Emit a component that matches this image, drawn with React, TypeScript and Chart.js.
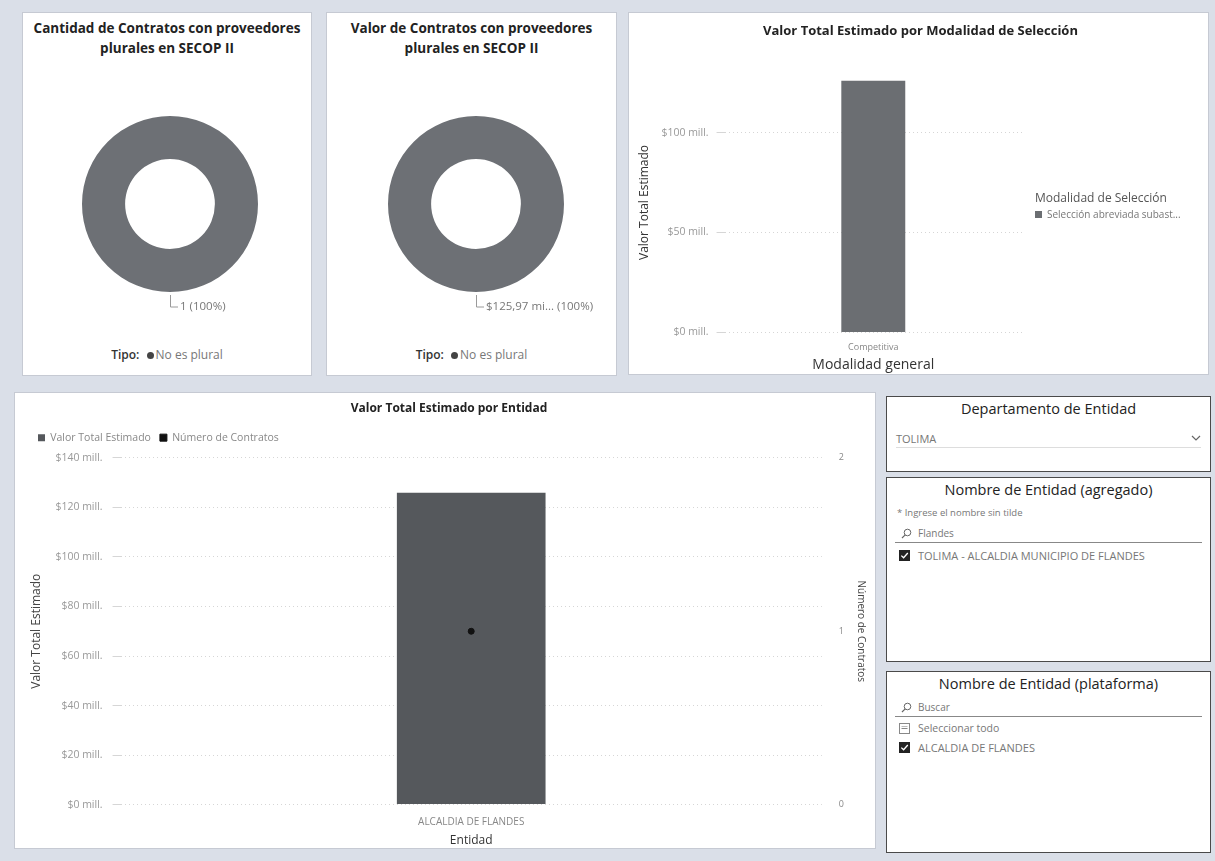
import React, { useEffect, useRef } from "react";
import { Chart, registerables } from "chart.js";

Chart.register(...registerables);

const FONT = "'Open Sans', 'Noto Sans', sans-serif";
Chart.defaults.font.family = FONT;

// ---- data ----
const tipoLabels = ["No es plural"];
const cantidadContratos = [1];
const valorContratos = [125.97]; // millones
const modalidadGeneral = ["Competitiva"];
const modalidadSeleccion = ["Selección abreviada subast..."];
const valorPorModalidad = [125.97]; // millones
const entidades = ["ALCALDIA DE FLANDES"];
const valorPorEntidad = [125.97]; // millones
const numeroContratos = [1];
const departamentos = ["TOLIMA"];
const entidadesAgregado = ["TOLIMA - ALCALDIA MUNICIPIO DE FLANDES"];
const entidadesPlataforma = ["ALCALDIA DE FLANDES"];

const DONUT = "#6d7075";
const BAR3 = "#6b6e72";
const BAR4 = "#55585c";

const sliceLabelPlugin = {
  id: "sliceLabel",
  afterDatasetsDraw(chart: any, _args: any, opts: any) {
    const meta = chart.getDatasetMeta(0);
    const ctx = chart.ctx;
    const data = chart.data.datasets[0].data as number[];
    const total = data.reduce((a, b) => a + b, 0);
    meta.data.forEach((arc: any, i: number) => {
      const { x, y, startAngle, endAngle, outerRadius } = arc.getProps(
        ["x", "y", "startAngle", "endAngle", "outerRadius"],
        true
      );
      const mid = (startAngle + endAngle) / 2;
      const px = Math.round(x + Math.cos(mid) * (outerRadius + 3));
      const py = y + Math.sin(mid) * (outerRadius + 3);
      ctx.save();
      ctx.strokeStyle = "#9a9a9a";
      ctx.lineWidth = 1;
      ctx.beginPath();
      ctx.moveTo(px + 0.5, py);
      ctx.lineTo(px + 0.5, py + 12);
      ctx.lineTo(px + 8, py + 12);
      ctx.stroke();
      ctx.fillStyle = "#777";
      ctx.font = `11.5px ${FONT}`;
      ctx.textBaseline = "middle";
      ctx.fillText(opts.format(data[i], total), px + 10, py + 12);
      ctx.restore();
    });
  },
};

// pushes the plot area down below the legend without moving the legend text
const legendSpacerPlugin = {
  id: "legendSpacer",
  afterInit(chart: any, _args: any, opts: any) {
    const legend = chart.legend;
    if (!legend) return;
    const fit = legend.fit.bind(legend);
    legend.fit = function () {
      fit();
      this.height += opts.extra || 0;
    };
  },
};

function ChartBox({ config, style }: { config: any; style: React.CSSProperties }) {
  const ref = useRef<HTMLCanvasElement>(null);
  useEffect(() => {
    const chart = new Chart(ref.current as HTMLCanvasElement, config);
    return () => chart.destroy();
  }, []);
  return (
    <div style={{ position: "absolute", ...style }}>
      <canvas ref={ref} />
    </div>
  );
}

function donutConfig(values: number[], fmt: (v: number, t: number) => string) {
  return {
    type: "doughnut",
    data: {
      labels: tipoLabels,
      datasets: [{ data: values, backgroundColor: [DONUT], borderWidth: 0 }],
    },
    options: {
      animation: false,
      responsive: true,
      maintainAspectRatio: false,
      cutout: "51%",
      layout: { padding: { left: 42, right: 42, top: 22, bottom: 42 } },
      plugins: {
        legend: { display: false },
        tooltip: { enabled: false },
        sliceLabel: { format: fmt },
      },
    },
    plugins: [sliceLabelPlugin],
  };
}

const pct = (v: number, t: number) => `${Math.round((v / t) * 100)}%`;

const modalidadConfig = {
  type: "bar",
  data: {
    labels: modalidadGeneral,
    datasets: [
      {
        label: modalidadSeleccion[0],
        data: valorPorModalidad,
        backgroundColor: BAR3,
        barPercentage: 0.215,
        categoryPercentage: 1,
      },
    ],
  },
  options: {
    animation: false,
    responsive: true,
    maintainAspectRatio: false,
    layout: { padding: { left: 8, right: 4, top: 4, bottom: 1 } },
    plugins: {
      tooltip: { enabled: false },
      title: {
        display: true,
        text: "Valor Total Estimado por Modalidad de Selección",
        color: "#222",
        font: { size: 13, weight: "bold" },
        padding: { top: 6, bottom: 34 },
      },
      legend: { display: false },
    },
    scales: {
      x: {
        grid: { display: false },
        border: { display: false },
        ticks: { color: "#888", font: { size: 9 }, padding: 2 },
        title: {
          display: true,
          text: "Modalidad general",
          color: "#333",
          font: { size: 14 },
          padding: { top: 1, bottom: 0 },
        },
      },
      y: {
        min: 0,
        max: 130,
        ticks: {
          stepSize: 50,
          includeBounds: false,
          callback: (v: number) => `$${v} mill.`,
          color: "#999",
          font: { size: 10.5 },
          padding: 8,
        },
        grid: { color: "#d6d6d6" },
        border: { display: false, dash: [1, 3] },
        title: {
          display: true,
          text: "Valor Total Estimado",
          color: "#333",
          font: { size: 12 },
          padding: { top: 0, bottom: 2 },
        },
      },
      // empty right-hand axis that reserves the room used by the legend
      legendRoom: {
        position: "right",
        display: true,
        grid: { display: false, drawTicks: false },
        border: { display: false },
        ticks: { display: false },
        afterFit: (scale: any) => {
          scale.width = 182;
        },
      },
    },
  },
};

const entidadConfig = {
  type: "bar",
  data: {
    labels: entidades,
    datasets: [
      {
        type: "line",
        label: "Número de Contratos",
        data: numeroContratos,
        yAxisID: "y1",
        showLine: false,
        borderColor: "#111",
        backgroundColor: "#111",
        pointRadius: 3,
        pointStyle: "circle",
        order: 0,
      },
      {
        type: "bar",
        label: "Valor Total Estimado",
        data: valorPorEntidad,
        yAxisID: "y",
        backgroundColor: BAR4,
        barPercentage: 0.212,
        categoryPercentage: 1,
        order: 1,
      },
    ],
  },
  options: {
    animation: false,
    responsive: true,
    maintainAspectRatio: false,
    layout: { padding: { left: 14, right: 6, top: 4, bottom: 0 } },
    plugins: {
      tooltip: { enabled: false },
      legendSpacer: { extra: 5 },
      title: {
        display: true,
        text: "Valor Total Estimado por Entidad",
        color: "#222",
        font: { size: 12, weight: "bold" },
        padding: { top: 4, bottom: 8 },
      },
      legend: {
        position: "top",
        align: "start",
        reverse: true,
        labels: {
          boxWidth: 7,
          boxHeight: 7,
          usePointStyle: true,
          pointStyle: "rect",
          color: "#888",
          font: { size: 10.5 },
          padding: 9,
        },
      },
    },
    scales: {
      x: {
        grid: { display: false },
        border: { display: false },
        ticks: { color: "#888", font: { size: 10 }, padding: 4 },
        title: {
          display: true,
          text: "Entidad",
          color: "#333",
          font: { size: 12 },
          padding: { top: 1, bottom: 0 },
        },
      },
      y: {
        position: "left",
        min: 0,
        max: 140,
        ticks: {
          stepSize: 20,
          callback: (v: number) => `$${v} mill.`,
          color: "#999",
          font: { size: 10.5 },
          padding: 10,
        },
        grid: { color: "#d6d6d6" },
        border: { display: false, dash: [1, 3] },
        title: {
          display: true,
          text: "Valor Total Estimado",
          color: "#444",
          font: { size: 12 },
          padding: { top: 0, bottom: 2 },
        },
      },
      y1: {
        position: "right",
        min: 0,
        max: 2,
        ticks: { stepSize: 1, color: "#888", font: { size: 9 }, padding: 9 },
        grid: { display: false },
        border: { display: false },
        title: {
          display: true,
          text: "Número de Contratos",
          color: "#444",
          font: { size: 10 },
          padding: 2,
        },
      },
    },
  },
  plugins: [legendSpacerPlugin],
};

const panel: React.CSSProperties = {
  position: "absolute",
  background: "#fff",
  border: "1px solid #c6cad3",
  boxSizing: "border-box",
  overflow: "hidden",
};

const slicer: React.CSSProperties = {
  position: "absolute",
  background: "#fff",
  border: "1.5px solid #4a4a4a",
  boxSizing: "border-box",
  overflow: "hidden",
  fontFamily: FONT,
};

const slicerTitle: React.CSSProperties = {
  textAlign: "center",
  fontSize: 14.5,
  color: "#222",
  marginTop: 2,
  lineHeight: "19px",
};

const small: React.CSSProperties = { fontSize: 11, color: "#777", whiteSpace: "nowrap" };

function Magnifier() {
  return (
    <svg width="11" height="11" viewBox="0 0 11 11" style={{ marginRight: 6 }}>
      <circle cx="6.5" cy="4.5" r="3.3" fill="none" stroke="#666" strokeWidth="1" />
      <line x1="4.2" y1="6.8" x2="1" y2="10" stroke="#666" strokeWidth="1.2" />
    </svg>
  );
}

function CheckBox({ checked }: { checked: boolean }) {
  return (
    <svg width="11" height="11" viewBox="0 0 11 11" style={{ marginRight: 8, flex: "none" }}>
      {checked ? (
        <>
          <rect x="0" y="0" width="11" height="11" fill="#222" />
          <polyline points="2.3,5.6 4.6,7.8 8.8,3" fill="none" stroke="#fff" strokeWidth="1.3" />
        </>
      ) : (
        <>
          <rect x="0.5" y="0.5" width="10" height="10" fill="#fff" stroke="#888" />
          <line x1="2.5" y1="5.5" x2="8.5" y2="5.5" stroke="#888" />
          <line x1="2.5" y1="3.5" x2="8.5" y2="3.5" stroke="#bbb" />
        </>
      )}
    </svg>
  );
}

function DonutLegend({ top }: { top: number }) {
  return (
    <div
      style={{
        position: "absolute",
        top,
        left: 0,
        width: "100%",
        textAlign: "center",
        fontFamily: FONT,
        fontSize: 12,
        color: "#777",
      }}
    >
      <span style={{ color: "#333", fontWeight: 600 }}>Tipo:</span>{" "}
      <span
        style={{
          display: "inline-block",
          width: 7,
          height: 7,
          borderRadius: 4,
          background: "#444",
          marginLeft: 4,
          marginRight: 2,
        }}
      />
      {tipoLabels[0]}
    </div>
  );
}

function DonutTitle({ lines }: { lines: string[] }) {
  return (
    <div
      style={{
        position: "absolute",
        top: 5,
        left: 0,
        width: "100%",
        textAlign: "center",
        fontFamily: FONT,
        fontWeight: 700,
        fontSize: 13.5,
        lineHeight: "20px",
        color: "#222",
        whiteSpace: "nowrap",
      }}
    >
      {lines.map((l) => (
        <div key={l}>{l}</div>
      ))}
    </div>
  );
}

export default function App() {
  return (
    <div
      style={{
        position: "absolute",
        left: 0,
        top: 0,
        width: 1215,
        height: 861,
        background: "#dadfe8",
        overflow: "hidden",
        fontFamily: FONT,
      }}
    >
      {/* Panel 1 */}
      <div style={{ ...panel, left: 22, top: 12, width: 290, height: 364 }}>
        <DonutTitle lines={["Cantidad de Contratos con proveedores", "plurales en SECOP II"]} />
        <ChartBox
          style={{ left: 17, top: 81, width: 260, height: 240 }}
          config={donutConfig(cantidadContratos, (v, t) => `${v} (${pct(v, t)})`)}
        />
        <DonutLegend top={333} />
      </div>

      {/* Panel 2 */}
      <div style={{ ...panel, left: 326, top: 12, width: 291, height: 364 }}>
        <DonutTitle lines={["Valor de Contratos con proveedores", "plurales en SECOP II"]} />
        <ChartBox
          style={{ left: 19, top: 81, width: 260, height: 240 }}
          config={donutConfig(
            valorContratos,
            (v, t) => `$${v.toFixed(2).replace(".", ",")} mi... (${pct(v, t)})`
          )}
        />
        <DonutLegend top={333} />
      </div>

      {/* Panel 3 */}
      <div style={{ ...panel, left: 628, top: 12, width: 581, height: 363 }}>
        <ChartBox style={{ left: 0, top: 0, width: 579, height: 361 }} config={modalidadConfig} />
        <div
          style={{
            position: "absolute",
            left: 406,
            top: 176,
            fontFamily: FONT,
            whiteSpace: "nowrap",
          }}
        >
          <div style={{ fontSize: 12, color: "#555", lineHeight: "17px" }}>Modalidad de Selección</div>
          {modalidadSeleccion.map((m) => (
            <div
              key={m}
              style={{ fontSize: 10, color: "#777", lineHeight: "16px", display: "flex", alignItems: "center" }}
            >
              <span
                style={{ display: "inline-block", width: 7, height: 7, background: BAR3, marginRight: 5 }}
              />
              {m}
            </div>
          ))}
        </div>
      </div>

      {/* Panel 4 */}
      <div style={{ ...panel, left: 14, top: 392, width: 862, height: 457 }}>
        <ChartBox style={{ left: 0, top: 0, width: 860, height: 455 }} config={entidadConfig} />
      </div>

      {/* Panel 5 */}
      <div style={{ ...slicer, left: 886, top: 396, width: 325, height: 76 }}>
        <div style={slicerTitle}>Departamento de Entidad</div>
        <div
          style={{
            position: "absolute",
            left: 9,
            right: 9,
            top: 32,
            height: 18,
            borderBottom: "1px solid #ddd",
            display: "flex",
            alignItems: "center",
            justifyContent: "space-between",
          }}
        >
          <span style={small}>{departamentos[0]}</span>
          <svg width="10" height="6" viewBox="0 0 10 6">
            <polyline points="1,1 5,5 9,1" fill="none" stroke="#666" strokeWidth="1.2" />
          </svg>
        </div>
      </div>

      {/* Panel 6 */}
      <div style={{ ...slicer, left: 886, top: 477, width: 325, height: 185 }}>
        <div style={slicerTitle}>Nombre de Entidad (agregado)</div>
        <div style={{ ...small, fontSize: 9.5, position: "absolute", left: 10, top: 28 }}>
          * Ingrese el nombre sin tilde
        </div>
        <div
          style={{
            position: "absolute",
            left: 8,
            right: 8,
            top: 46,
            height: 18,
            borderBottom: "1px solid #888",
            display: "flex",
            alignItems: "center",
            paddingLeft: 6,
          }}
        >
          <Magnifier />
          <span style={{ ...small, fontSize: 10 }}>Flandes</span>
        </div>
        {entidadesAgregado.map((e, i) => (
          <div
            key={e}
            style={{
              position: "absolute",
              left: 12,
              top: 70 + i * 19,
              display: "flex",
              alignItems: "center",
            }}
          >
            <CheckBox checked />
            <span style={small}>{e}</span>
          </div>
        ))}
      </div>

      {/* Panel 7 */}
      <div style={{ ...slicer, left: 886, top: 671, width: 325, height: 182 }}>
        <div style={slicerTitle}>Nombre de Entidad (plataforma)</div>
        <div
          style={{
            position: "absolute",
            left: 8,
            right: 8,
            top: 26,
            height: 18,
            borderBottom: "1px solid #888",
            display: "flex",
            alignItems: "center",
            paddingLeft: 6,
          }}
        >
          <Magnifier />
          <span style={{ ...small, fontSize: 10 }}>Buscar</span>
        </div>
        <div style={{ position: "absolute", left: 12, top: 49, display: "flex", alignItems: "center" }}>
          <CheckBox checked={false} />
          <span style={{ ...small, fontSize: 10.5 }}>Seleccionar todo</span>
        </div>
        {entidadesPlataforma.map((e, i) => (
          <div
            key={e}
            style={{
              position: "absolute",
              left: 12,
              top: 68 + i * 19,
              display: "flex",
              alignItems: "center",
            }}
          >
            <CheckBox checked />
            <span style={small}>{e}</span>
          </div>
        ))}
      </div>
    </div>
  );
}
